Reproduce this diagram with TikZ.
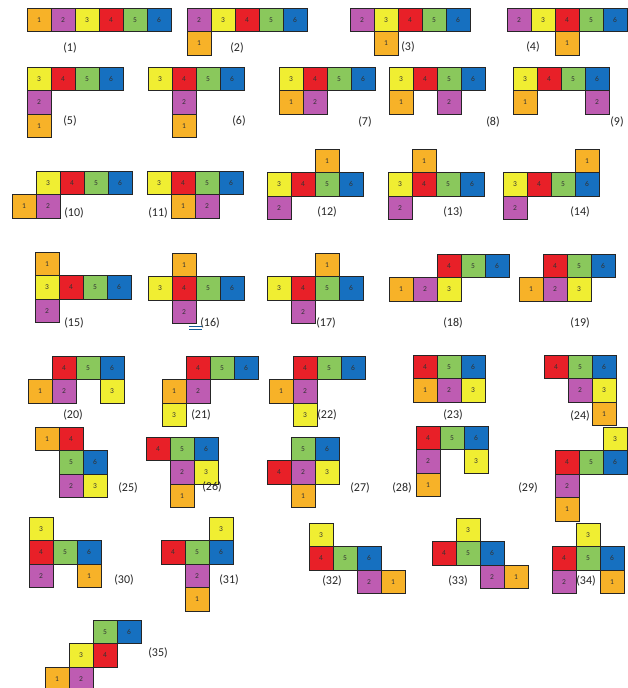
\documentclass[tikz,border=0pt]{standalone}
\usepackage{fontspec}
\setmainfont{Carlito}
\definecolor{col1}{RGB}{247,178,40}
\definecolor{col2}{RGB}{190,92,178}
\definecolor{col3}{RGB}{240,238,50}
\definecolor{col4}{RGB}{232,32,40}
\definecolor{col5}{RGB}{138,200,92}
\definecolor{col6}{RGB}{22,112,192}
\tikzset{
  cell/.style={draw=black!85,line width=0.9pt,minimum width=24pt,minimum height=23.5pt,inner sep=0pt,font=\fontsize{7.5}{8}\selectfont,text=black!80},
  lab/.style={font=\fontsize{12}{14}\selectfont,text=black!85,inner sep=0pt}
}
\newcommand\sq[4]{\node[cell,fill=col#4] (n#1c#4) at ({24*#2+12},{23.5*#3+11.75}) {#4};}
\begin{document}
\begin{tikzpicture}[x=1pt,y=-1pt]
\useasboundingbox (0,0) rectangle (628,688);
\fill[white] (0,0) rectangle (628,688);
% (1)
\begin{scope}[shift={(27,8)}]
\sq{1}{0}{0}{1}\sq{1}{1}{0}{2}\sq{1}{2}{0}{3}\sq{1}{3}{0}{4}\sq{1}{4}{0}{5}\sq{1}{5}{0}{6}
\end{scope}
\node[lab] (l1) at (70,48) {(1)};
% (2)
\begin{scope}[shift={(187,8)}]
\sq{2}{0}{0}{2}\sq{2}{1}{0}{3}\sq{2}{2}{0}{4}\sq{2}{3}{0}{5}\sq{2}{4}{0}{6}\sq{2}{0}{1}{1}
\end{scope}
\node[lab] (l2) at (237,48) {(2)};
% (3)
\begin{scope}[shift={(350,8)}]
\sq{3}{0}{0}{2}\sq{3}{1}{0}{3}\sq{3}{2}{0}{4}\sq{3}{3}{0}{5}\sq{3}{4}{0}{6}\sq{3}{1}{1}{1}
\end{scope}
\node[lab] (l3) at (408,47) {(3)};
% (4)
\begin{scope}[shift={(507,8)}]
\sq{4}{0}{0}{2}\sq{4}{1}{0}{3}\sq{4}{2}{0}{4}\sq{4}{3}{0}{5}\sq{4}{4}{0}{6}\sq{4}{2}{1}{1}
\end{scope}
\node[lab] (l4) at (533,47) {(4)};
% (5)
\begin{scope}[shift={(27,67)}]
\sq{5}{0}{0}{3}\sq{5}{1}{0}{4}\sq{5}{2}{0}{5}\sq{5}{3}{0}{6}\sq{5}{0}{1}{2}\sq{5}{0}{2}{1}
\end{scope}
\node[lab] (l5) at (70,121) {(5)};
% (6)
\begin{scope}[shift={(148,67)}]
\sq{6}{0}{0}{3}\sq{6}{1}{0}{4}\sq{6}{2}{0}{5}\sq{6}{3}{0}{6}\sq{6}{1}{1}{2}\sq{6}{1}{2}{1}
\end{scope}
\node[lab] (l6) at (239,121) {(6)};
% (7)
\begin{scope}[shift={(279,67)}]
\sq{7}{0}{0}{3}\sq{7}{1}{0}{4}\sq{7}{2}{0}{5}\sq{7}{3}{0}{6}\sq{7}{0}{1}{1}\sq{7}{1}{1}{2}
\end{scope}
\node[lab] (l7) at (365,122) {(7)};
% (8)
\begin{scope}[shift={(389,67)}]
\sq{8}{0}{0}{3}\sq{8}{1}{0}{4}\sq{8}{2}{0}{5}\sq{8}{3}{0}{6}\sq{8}{0}{1}{1}\sq{8}{2}{1}{2}
\end{scope}
\node[lab] (l8) at (493,122) {(8)};
% (9)
\begin{scope}[shift={(513,67)}]
\sq{9}{0}{0}{3}\sq{9}{1}{0}{4}\sq{9}{2}{0}{5}\sq{9}{3}{0}{6}\sq{9}{0}{1}{1}\sq{9}{3}{1}{2}
\end{scope}
\node[lab] (l9) at (617,122) {(9)};
% (10)
\begin{scope}[shift={(12,171)}]
\sq{10}{1}{0}{3}\sq{10}{2}{0}{4}\sq{10}{3}{0}{5}\sq{10}{4}{0}{6}\sq{10}{0}{1}{1}\sq{10}{1}{1}{2}
\end{scope}
\node[lab] (l10) at (74,213) {(10)};
% (11)
\begin{scope}[shift={(147,171)}]
\sq{11}{0}{0}{3}\sq{11}{1}{0}{4}\sq{11}{2}{0}{5}\sq{11}{3}{0}{6}\sq{11}{1}{1}{1}\sq{11}{2}{1}{2}
\end{scope}
\node[lab] (l11) at (158,213) {(11)};
% (12)
\begin{scope}[shift={(267,149)}]
\sq{12}{2}{0}{1}\sq{12}{0}{1}{3}\sq{12}{1}{1}{4}\sq{12}{2}{1}{5}\sq{12}{3}{1}{6}\sq{12}{0}{2}{2}
\end{scope}
\node[lab] (l12) at (327,212) {(12)};
% (13)
\begin{scope}[shift={(388,149)}]
\sq{13}{1}{0}{1}\sq{13}{0}{1}{3}\sq{13}{1}{1}{4}\sq{13}{2}{1}{5}\sq{13}{3}{1}{6}\sq{13}{0}{2}{2}
\end{scope}
\node[lab] (l13) at (453,212) {(13)};
% (14)
\begin{scope}[shift={(503,149)}]
\sq{14}{3}{0}{1}\sq{14}{0}{1}{3}\sq{14}{1}{1}{4}\sq{14}{2}{1}{5}\sq{14}{3}{1}{6}\sq{14}{0}{2}{2}
\end{scope}
\node[lab] (l14) at (580,212) {(14)};
% (15)
\begin{scope}[shift={(35,252)}]
\sq{15}{0}{0}{1}\sq{15}{0}{1}{3}\sq{15}{1}{1}{4}\sq{15}{2}{1}{5}\sq{15}{3}{1}{6}\sq{15}{0}{2}{2}
\end{scope}
\node[lab] (l15) at (74,323) {(15)};
% (16)
\begin{scope}[shift={(148,253)}]
\sq{16}{1}{0}{1}\sq{16}{0}{1}{3}\sq{16}{1}{1}{4}\sq{16}{2}{1}{5}\sq{16}{3}{1}{6}\sq{16}{1}{2}{2}
\end{scope}
\node[lab] (l16) at (210,323) {(16)};
\coordinate (ua) at (189,326.5); \coordinate (ub) at (202,326.5);
\coordinate (uc) at (189,329); \coordinate (ud) at (202,329);
\draw[col6!80!black,line width=0.6pt] (ua) -- (ub) (uc) -- (ud);
% (17)
\begin{scope}[shift={(267,253)}]
\sq{17}{2}{0}{1}\sq{17}{0}{1}{3}\sq{17}{1}{1}{4}\sq{17}{2}{1}{5}\sq{17}{3}{1}{6}\sq{17}{1}{2}{2}
\end{scope}
\node[lab] (l17) at (326,323) {(17)};
% (18)
\begin{scope}[shift={(389,254)}]
\sq{18}{2}{0}{4}\sq{18}{3}{0}{5}\sq{18}{4}{0}{6}\sq{18}{0}{1}{1}\sq{18}{1}{1}{2}\sq{18}{2}{1}{3}
\end{scope}
\node[lab] (l18) at (453,323) {(18)};
% (19)
\begin{scope}[shift={(519,254)}]
\sq{19}{1}{0}{4}\sq{19}{2}{0}{5}\sq{19}{3}{0}{6}\sq{19}{0}{1}{1}\sq{19}{1}{1}{2}\sq{19}{2}{1}{3}
\end{scope}
\node[lab] (l19) at (580,323) {(19)};
% (20)
\begin{scope}[shift={(28,356)}]
\sq{20}{1}{0}{4}\sq{20}{2}{0}{5}\sq{20}{3}{0}{6}\sq{20}{0}{1}{1}\sq{20}{1}{1}{2}\sq{20}{3}{1}{3}
\end{scope}
\node[lab] (l20) at (73,415) {(20)};
% (21)
\begin{scope}[shift={(162,356)}]
\sq{21}{1}{0}{4}\sq{21}{2}{0}{5}\sq{21}{3}{0}{6}\sq{21}{0}{1}{1}\sq{21}{1}{1}{2}\sq{21}{0}{2}{3}
\end{scope}
\node[lab] (l21) at (201,415) {(21)};
% (22)
\begin{scope}[shift={(269,356)}]
\sq{22}{1}{0}{4}\sq{22}{2}{0}{5}\sq{22}{3}{0}{6}\sq{22}{0}{1}{1}\sq{22}{1}{1}{2}\sq{22}{1}{2}{3}
\end{scope}
\node[lab] (l22) at (327,415) {(22)};
% (23)
\begin{scope}[shift={(413,355)}]
\sq{23}{0}{0}{4}\sq{23}{1}{0}{5}\sq{23}{2}{0}{6}\sq{23}{0}{1}{1}\sq{23}{1}{1}{2}\sq{23}{2}{1}{3}
\end{scope}
\node[lab] (l23) at (453,415) {(23)};
% (24)
\begin{scope}[shift={(544,355)}]
\sq{24}{0}{0}{4}\sq{24}{1}{0}{5}\sq{24}{2}{0}{6}\sq{24}{1}{1}{2}\sq{24}{2}{1}{3}\sq{24}{2}{2}{1}
\end{scope}
\node[lab] (l24) at (580,416) {(24)};
% (25)
\begin{scope}[shift={(35,427)}]
\sq{25}{0}{0}{1}\sq{25}{1}{0}{4}\sq{25}{1}{1}{5}\sq{25}{2}{1}{6}\sq{25}{1}{2}{2}\sq{25}{2}{2}{3}
\end{scope}
\node[lab] (l25) at (128,488) {(25)};
% (26)
\begin{scope}[shift={(146,437)}]
\sq{26}{0}{0}{4}\sq{26}{1}{0}{5}\sq{26}{2}{0}{6}\sq{26}{1}{1}{2}\sq{26}{2}{1}{3}\sq{26}{1}{2}{1}
\end{scope}
\node[lab] (l26) at (212,487) {(26)};
% (27)
\begin{scope}[shift={(267,437)}]
\sq{27}{1}{0}{5}\sq{27}{2}{0}{6}\sq{27}{0}{1}{4}\sq{27}{1}{1}{2}\sq{27}{2}{1}{3}\sq{27}{1}{2}{1}
\end{scope}
\node[lab] (l27) at (360,488) {(27)};
% (28)
\begin{scope}[shift={(416,426)}]
\sq{28}{0}{0}{4}\sq{28}{1}{0}{5}\sq{28}{2}{0}{6}\sq{28}{0}{1}{2}\sq{28}{2}{1}{3}\sq{28}{0}{2}{1}
\end{scope}
\node[lab] (l28) at (402,488) {(28)};
% (29)
\begin{scope}[shift={(555,427)}]
\sq{29}{2}{0}{3}\sq{29}{0}{1}{4}\sq{29}{1}{1}{5}\sq{29}{2}{1}{6}\sq{29}{0}{2}{2}\sq{29}{0}{3}{1}
\end{scope}
\node[lab] (l29) at (528,488) {(29)};
% (30)
\begin{scope}[shift={(29,517)}]
\sq{30}{0}{0}{3}\sq{30}{0}{1}{4}\sq{30}{1}{1}{5}\sq{30}{2}{1}{6}\sq{30}{0}{2}{2}\sq{30}{2}{2}{1}
\end{scope}
\node[lab] (l30) at (124,580) {(30)};
% (31)
\begin{scope}[shift={(161,517)}]
\sq{31}{2}{0}{3}\sq{31}{0}{1}{4}\sq{31}{1}{1}{5}\sq{31}{2}{1}{6}\sq{31}{1}{2}{2}\sq{31}{1}{3}{1}
\end{scope}
\node[lab] (l31) at (229,580) {(31)};
% (32)
\begin{scope}[shift={(309,523)}]
\sq{32}{0}{0}{3}\sq{32}{0}{1}{4}\sq{32}{1}{1}{5}\sq{32}{2}{1}{6}\sq{32}{2}{2}{2}\sq{32}{3}{2}{1}
\end{scope}
\node[lab] (l32) at (332,581) {(32)};
% (33)
\begin{scope}[shift={(432,518)}]
\sq{33}{1}{0}{3}\sq{33}{0}{1}{4}\sq{33}{1}{1}{5}\sq{33}{2}{1}{6}\sq{33}{2}{2}{2}\sq{33}{3}{2}{1}
\end{scope}
\node[lab] (l33) at (458,581) {(33)};
% (34)
\begin{scope}[shift={(552,523)}]
\sq{34}{1}{0}{3}\sq{34}{0}{1}{4}\sq{34}{1}{1}{5}\sq{34}{2}{1}{6}\sq{34}{0}{2}{2}\sq{34}{2}{2}{1}
\end{scope}
\node[lab] (l34) at (586,581) {(34)};
% (35)
\begin{scope}[shift={(45,620)}]
\sq{35}{2}{0}{5}\sq{35}{3}{0}{6}\sq{35}{1}{1}{3}\sq{35}{2}{1}{4}\sq{35}{0}{2}{1}\sq{35}{1}{2}{2}
\end{scope}
\node[lab] (l35) at (158,653) {(35)};
\end{tikzpicture}
\end{document}
